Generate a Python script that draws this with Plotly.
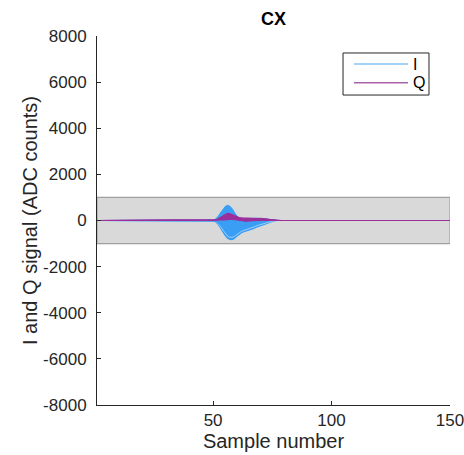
import plotly.graph_objects as go

# Sample axis and the window where the pulse sits
samples = list(range(1, 151))
pulse_first_sample = 48  # first entry of every pulse list below

# I channel pulses (ADC counts), samples 48..80
i_trace_high = [0, 0, 0, 50, 150, 300, 450, 580, 650, 620, 500, 330, 180, 100, 80, 70, 80,
                90, 90, 90, 90, 90, 80, 70, 50, 30, 10, 0, 0, 0, 0, 0, 0]
i_trace_low = [0, 0, -10, -50, -150, -300, -480, -640, -760, -820, -830, -780, -680, -590, -530,
               -490, -460, -430, -390, -350, -300, -260, -230, -200, -160, -120, -80, -40, -10,
               0, 0, 0, 0]
i_trace_3 = [0, 0, -10, -40, -120, -250, -400, -560, -670, -720, -730, -690, -610, -530, -470,
             -430, -400, -370, -330, -290, -250, -210, -180, -150, -120, -80, -50, -20, 0, 0, 0, 0, 0]
i_trace_4 = [0, 0, 0, 30, 100, 220, 360, 480, 560, 540, 430, 280, 140, 60, 20, 0, 10,
             30, 50, 60, 60, 60, 50, 40, 30, 20, 10, 0, 0, 0, 0, 0, 0]
i_trace_5 = [0, 0, -10, -30, -80, -170, -290, -410, -500, -540, -530, -480, -410, -340, -280,
             -230, -190, -150, -110, -80, -50, -20, 0, 20, 30, 20, 10, 0, 0, 0, 0, 0, 0]

# Q channel pulses (ADC counts), samples 48..80
q_trace_high = [0, 0, 0, 20, 60, 120, 200, 270, 310, 300, 260, 200, 150, 130, 120, 110, 100,
                90, 90, 80, 80, 80, 90, 90, 80, 60, 40, 20, 0, 0, 0, 0, 0]
q_trace_low = [0, 0, 0, 0, 0, 10, 20, 30, 40, 60, 60, 40, 20, 0, -20, -30, -30,
               -20, -10, 0, 0, 0, 0, 0, 0, 0, 0, 0, 0, 0, 0, 0, 0]
q_trace_3 = [0, 0, 0, 10, 30, 70, 120, 170, 210, 230, 220, 180, 120, 60, 10, -10, -20,
             -10, 0, 20, 40, 50, 60, 60, 50, 40, 20, 10, 0, 0, 0, 0, 0]

# Shaded reference band (ADC counts)
band_low, band_high = -1000, 1000

y_ticks = [-8000, -6000, -4000, -2000, 0, 2000, 4000, 6000, 8000]
y_tick_labels = ["-8000", "-6000", "-4000", "-2000", "0", "2000", "4000", "6000", "8000"]
x_ticks = [50, 100, 150]
legend_names = ["I", "Q"]

I_COLOR = "#3a9ef5"
Q_COLOR = "#9b2f9b"
I_LEGEND_COLOR = "#86c2f3"
Q_LEGEND_COLOR = "#a964a9"
FONT = "Liberation Sans, Arial, sans-serif"


def full_record(pulse):
    """Place a pulse inside the full 150-sample record (flat baseline elsewhere)."""
    before = pulse_first_sample - samples[0]
    after = len(samples) - before - len(pulse)
    return [0] * before + pulse + [0] * after


fig = go.Figure()

# I channel: the overlapping records form a solid band between the extreme records
fig.add_trace(go.Scatter(x=samples, y=full_record(i_trace_high), mode="lines", name="I",
                         line=dict(color=I_COLOR, width=1.2), showlegend=False))
fig.add_trace(go.Scatter(x=samples, y=full_record(i_trace_low), mode="lines", name="I",
                         line=dict(color=I_COLOR, width=1.2), fill="tonexty",
                         fillcolor=I_COLOR, showlegend=False))
fig.add_trace(go.Scatter(x=samples, y=full_record(i_trace_3), mode="lines", name="I",
                         line=dict(color="#9ccdf8", width=1), showlegend=False))
for tr in (i_trace_4, i_trace_5):
    fig.add_trace(go.Scatter(x=samples, y=full_record(tr), mode="lines", name="I",
                             line=dict(color=I_COLOR, width=1.2), showlegend=False))

# Q channel drawn over I
fig.add_trace(go.Scatter(x=samples, y=full_record(q_trace_high), mode="lines", name="Q",
                         line=dict(color=Q_COLOR, width=1.2), showlegend=False))
fig.add_trace(go.Scatter(x=samples, y=full_record(q_trace_low), mode="lines", name="Q",
                         line=dict(color=Q_COLOR, width=1.2), fill="tonexty",
                         fillcolor=Q_COLOR, showlegend=False))
fig.add_trace(go.Scatter(x=samples, y=full_record(q_trace_3), mode="lines", name="Q",
                         line=dict(color=Q_COLOR, width=1.2), showlegend=False))

fig.add_shape(
    type="rect", xref="x", yref="y",
    x0=samples[0], x1=samples[-1], y0=band_low, y1=band_high,
    fillcolor="#d9d9d9", line=dict(color="#a0a0a0", width=1.2),
    layer="below",
)

# Boxed legend with long sample lines, top right of the axes
fig.add_shape(type="rect", xref="paper", yref="paper",
              x0=0.697, x1=0.9405, y0=0.840, y1=0.954,
              fillcolor="white", line=dict(color="#262626", width=1))
for name, color, ypos in zip(legend_names, [I_LEGEND_COLOR, Q_LEGEND_COLOR], [0.924, 0.873]):
    fig.add_shape(type="line", xref="paper", yref="paper",
                  x0=0.728, x1=0.881, y0=ypos, y1=ypos,
                  line=dict(color=color, width=1.5))
    fig.add_annotation(text=name, xref="paper", yref="paper", x=0.8895, y=ypos,
                       xanchor="left", yanchor="middle", showarrow=False,
                       font=dict(family=FONT, size=16, color="black"))

fig.update_layout(
    width=464, height=455,
    margin=dict(l=97, r=14, t=36, b=50),
    paper_bgcolor="white", plot_bgcolor="white",
    showlegend=False,
    font=dict(family=FONT, size=17, color="#262626"),
    title=dict(
        text="<b>CX</b>", xref="paper", x=0.5, xanchor="center", y=0.96, yanchor="middle",
        font=dict(family=FONT, size=18, color="black"),
    ),
    xaxis=dict(
        range=[samples[0], samples[-1]], tickvals=x_ticks, automargin=False,
        ticklabeloverflow="allow",
        ticks="inside", ticklen=4, tickcolor="#262626",
        showline=True, linecolor="#262626", linewidth=1,
        showgrid=False, zeroline=False,
        title=dict(text="Sample number", font=dict(size=20, color="#262626"), standoff=2),
    ),
    yaxis=dict(
        range=[-8000, 8000], tickvals=y_ticks, ticktext=y_tick_labels, automargin=False,
        ticklabeloverflow="allow",
        ticks="inside", ticklen=4, tickcolor="#262626", ticklabelstandoff=6,
        showline=True, linecolor="#262626", linewidth=1,
        showgrid=False, zeroline=False,
        title=dict(text="I and Q signal (ADC counts)", font=dict(size=20, color="#262626"), standoff=0),
    ),
)

fig.write_html("out.html")
